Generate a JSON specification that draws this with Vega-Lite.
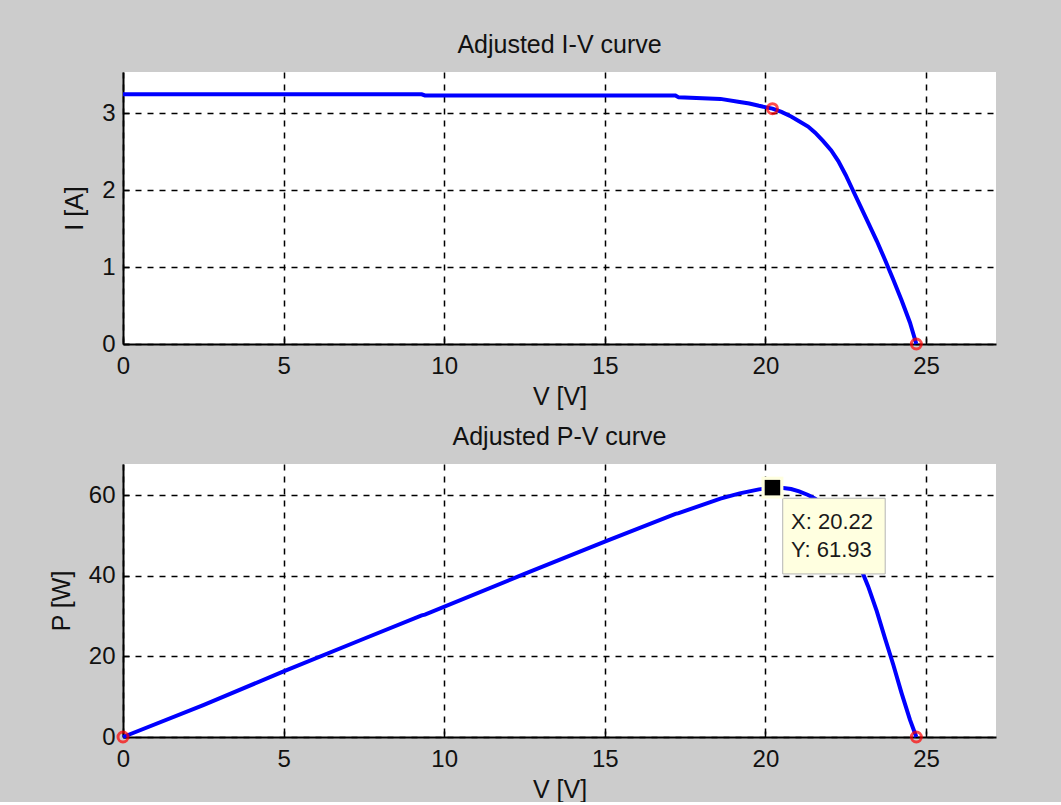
{
  "$schema": "https://vega.github.io/schema/vega-lite/v6.json",
  "background": "#cccccc",
  "padding": {"left": 49, "top": 33, "right": 78, "bottom": 0},
  "bounds": "flush",
  "spacing": 120,
  "datasets": {
    "iv": [
      {"V": 0, "I": 3.25, "P": 0},
      {"V": 2.5, "I": 3.25, "P": 7.9},
      {"V": 5, "I": 3.25, "P": 16.3},
      {"V": 7.5, "I": 3.25, "P": 24.4},
      {"V": 9.3, "I": 3.25, "P": 30.2},
      {"V": 9.4, "I": 3.235, "P": 30.4},
      {"V": 12.5, "I": 3.235, "P": 40.5},
      {"V": 15, "I": 3.235, "P": 48.5},
      {"V": 17.2, "I": 3.235, "P": 55.4},
      {"V": 17.3, "I": 3.21, "P": 55.6},
      {"V": 18.6, "I": 3.19, "P": 59.2},
      {"V": 19.2, "I": 3.15, "P": 60.5},
      {"V": 19.5, "I": 3.13, "P": 61.0},
      {"V": 19.8, "I": 3.1, "P": 61.5},
      {"V": 20.22, "I": 3.063, "P": 61.93},
      {"V": 20.5, "I": 3.02, "P": 61.9},
      {"V": 20.8, "I": 2.96, "P": 61.6},
      {"V": 21.05, "I": 2.9, "P": 61.0},
      {"V": 21.33, "I": 2.83, "P": 60.1},
      {"V": 21.55, "I": 2.75, "P": 59.2},
      {"V": 21.8, "I": 2.64, "P": 57.6},
      {"V": 22.05, "I": 2.52, "P": 55.6},
      {"V": 22.27, "I": 2.38, "P": 53.2},
      {"V": 22.5, "I": 2.2, "P": 49.6},
      {"V": 22.68, "I": 2.04, "P": 46.6},
      {"V": 22.95, "I": 1.8, "P": 42.3},
      {"V": 23.2, "I": 1.58, "P": 37.4},
      {"V": 23.47, "I": 1.34, "P": 31.2},
      {"V": 23.72, "I": 1.1, "P": 24.6},
      {"V": 23.98, "I": 0.84, "P": 18.0},
      {"V": 24.24, "I": 0.57, "P": 10.9},
      {"V": 24.5, "I": 0.28, "P": 4.3},
      {"V": 24.7, "I": 0, "P": 0}
    ],
    "ivpts": [
      {"V": 20.22, "I": 3.063},
      {"V": 24.7, "I": 0}
    ],
    "pvpts": [
      {"V": 0, "P": 0},
      {"V": 24.7, "P": 0}
    ],
    "mpp": [
      {"V": 20.22, "P": 61.93}
    ],
    "tipbox": [
      {"x1": 20.54, "x2": 23.73, "y1": 40.5, "y2": 59.3}
    ],
    "tiptext": [
      {"V": 20.8, "P": 53.5, "label": "X: 20.22"},
      {"V": 20.8, "P": 46.5, "label": "Y: 61.93"}
    ]
  },
  "config": {
    "font": "Liberation Sans",
    "view": {"fill": "white", "stroke": null},
    "axis": {
      "domainColor": "black",
      "domainWidth": 2,
      "gridColor": "black",
      "gridDash": [6, 6],
      "gridWidth": 1.5,
      "gridOpacity": 1,
      "tickColor": "black",
      "tickSize": -6,
      "tickWidth": 1.5,
      "labelFont": "Liberation Sans",
      "labelFontSize": 24,
      "labelColor": "#111111",
      "titleFont": "Liberation Sans",
      "titleFontSize": 25,
      "titleFontWeight": "normal",
      "titleColor": "#111111"
    },
    "axisX": {"labelPadding": 16, "titlePadding": 6, "labelFlush": false},
    "axisY": {"labelPadding": 14, "titlePadding": 14},
    "title": {"fontSize": 25, "fontWeight": "normal", "font": "Liberation Sans", "color": "#111111", "offset": 14}
  },
  "vconcat": [
    {
      "width": 873,
      "height": 272,
      "title": "Adjusted I-V curve",
      "layer": [
        {
          "data": {"name": "iv"},
          "mark": {"type": "line", "color": "#0000ff", "strokeWidth": 4},
          "encoding": {
            "x": {"field": "V", "type": "quantitative", "scale": {"domain": [0, 27.18], "nice": false}, "axis": {"values": [0, 5, 10, 15, 20, 25], "format": "d", "title": "V [V]"}},
            "y": {"field": "I", "type": "quantitative", "scale": {"domain": [0, 3.54], "nice": false}, "axis": {"values": [0, 1, 2, 3], "format": "d", "title": "I [A]"}}
          }
        },
        {
          "data": {"name": "ivpts"},
          "mark": {"type": "point", "shape": "circle", "color": "#ff0000", "filled": false, "strokeWidth": 3, "size": 100},
          "encoding": {
            "x": {"field": "V", "type": "quantitative"},
            "y": {"field": "I", "type": "quantitative"}
          }
        }
      ]
    },
    {
      "width": 873,
      "height": 273,
      "title": "Adjusted P-V curve",
      "layer": [
        {
          "data": {"name": "iv"},
          "mark": {"type": "line", "color": "#0000ff", "strokeWidth": 4},
          "encoding": {
            "x": {"field": "V", "type": "quantitative", "scale": {"domain": [0, 27.18], "nice": false}, "axis": {"values": [0, 5, 10, 15, 20, 25], "format": "d", "title": "V [V]"}},
            "y": {"field": "P", "type": "quantitative", "scale": {"domain": [0, 67.8], "nice": false}, "axis": {"values": [0, 20, 40, 60], "format": "d", "title": "P [W]"}}
          }
        },
        {
          "data": {"name": "pvpts"},
          "mark": {"type": "point", "shape": "circle", "color": "#ff0000", "filled": false, "strokeWidth": 3, "size": 100},
          "encoding": {
            "x": {"field": "V", "type": "quantitative"},
            "y": {"field": "P", "type": "quantitative"}
          }
        },
        {
          "data": {"name": "tipbox"},
          "mark": {"type": "rect", "fill": "#ffffe0", "stroke": "#b4b4b4", "strokeWidth": 1},
          "encoding": {
            "x": {"field": "x1", "type": "quantitative"},
            "x2": {"field": "x2"},
            "y": {"field": "y1", "type": "quantitative"},
            "y2": {"field": "y2"}
          }
        },
        {
          "data": {"name": "tiptext"},
          "mark": {"type": "text", "align": "left", "baseline": "middle", "fontSize": 22, "font": "Liberation Sans", "color": "#1a1a1a"},
          "encoding": {
            "x": {"field": "V", "type": "quantitative"},
            "y": {"field": "P", "type": "quantitative"},
            "text": {"field": "label"}
          }
        },
        {
          "data": {"name": "mpp"},
          "mark": {"type": "point", "shape": "square", "filled": true, "color": "#ffffe0", "opacity": 1, "size": 480},
          "encoding": {
            "x": {"field": "V", "type": "quantitative"},
            "y": {"field": "P", "type": "quantitative"}
          }
        },
        {
          "data": {"name": "mpp"},
          "mark": {"type": "point", "shape": "square", "filled": true, "color": "#000000", "opacity": 1, "size": 240},
          "encoding": {
            "x": {"field": "V", "type": "quantitative"},
            "y": {"field": "P", "type": "quantitative"}
          }
        }
      ]
    }
  ]
}
